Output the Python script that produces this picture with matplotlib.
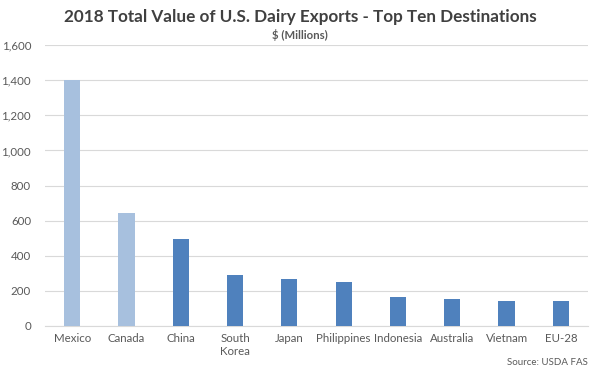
import matplotlib
matplotlib.use("Agg")
import matplotlib.pyplot as plt
import numpy as np

# data
countries = ["Mexico", "Canada", "China", "South\nKorea", "Japan", "Philippines",
             "Indonesia", "Australia", "Vietnam", "EU-28"]
values = [1400, 642, 495, 290, 268, 249, 167, 152, 144, 142]
highlight = [True, True, False, False, False, False, False, False, False, False]

yticks = [0, 200, 400, 600, 800, 1000, 1200, 1400, 1600]

plt.rcParams['font.family'] = ['Lato', 'DejaVu Sans']

fig = plt.figure(figsize=(6, 3.7), dpi=100)
ax = fig.add_axes([0.075, 0.119, 0.905, 0.759])

colors = ["#A7C0DE" if h else "#4F81BD" for h in highlight]
x = np.arange(len(countries))
ax.bar(x, values, width=0.3, color=colors, zorder=3)

ax.set_xlim(-0.5, len(countries) - 0.5)
ax.set_ylim(0, 1600)
ax.set_yticks(yticks)
ax.set_yticklabels([f"{v:,}" for v in yticks])
ax.set_xticks(x)
ax.set_xticklabels(countries, ha="center", va="top", multialignment="left")

ax.grid(axis="y", color="#D9D9D9", linewidth=0.8, zorder=0)
for s in ["top", "right", "left"]:
    ax.spines[s].set_visible(False)
ax.spines["bottom"].set_color("#D9D9D9")
ax.tick_params(axis="both", length=0, labelsize=8.3, colors="#595959")
ax.tick_params(axis="y", pad=10)
ax.tick_params(axis="x", pad=5)

fig.text(0.5, 0.955, "2018 Total Value of U.S. Dairy Exports - Top Ten Destinations",
         ha="center", va="center", fontsize=12.3, fontweight="bold", color="#404040")
fig.text(0.5, 0.905, "$ (Millions)", ha="center", va="center",
         fontsize=8.2, fontweight="bold", color="#595959")
fig.text(0.98, 0.02, "Source: USDA FAS", ha="right", va="center",
         fontsize=7, color="#595959")

fig.savefig("out.png", dpi=100)
